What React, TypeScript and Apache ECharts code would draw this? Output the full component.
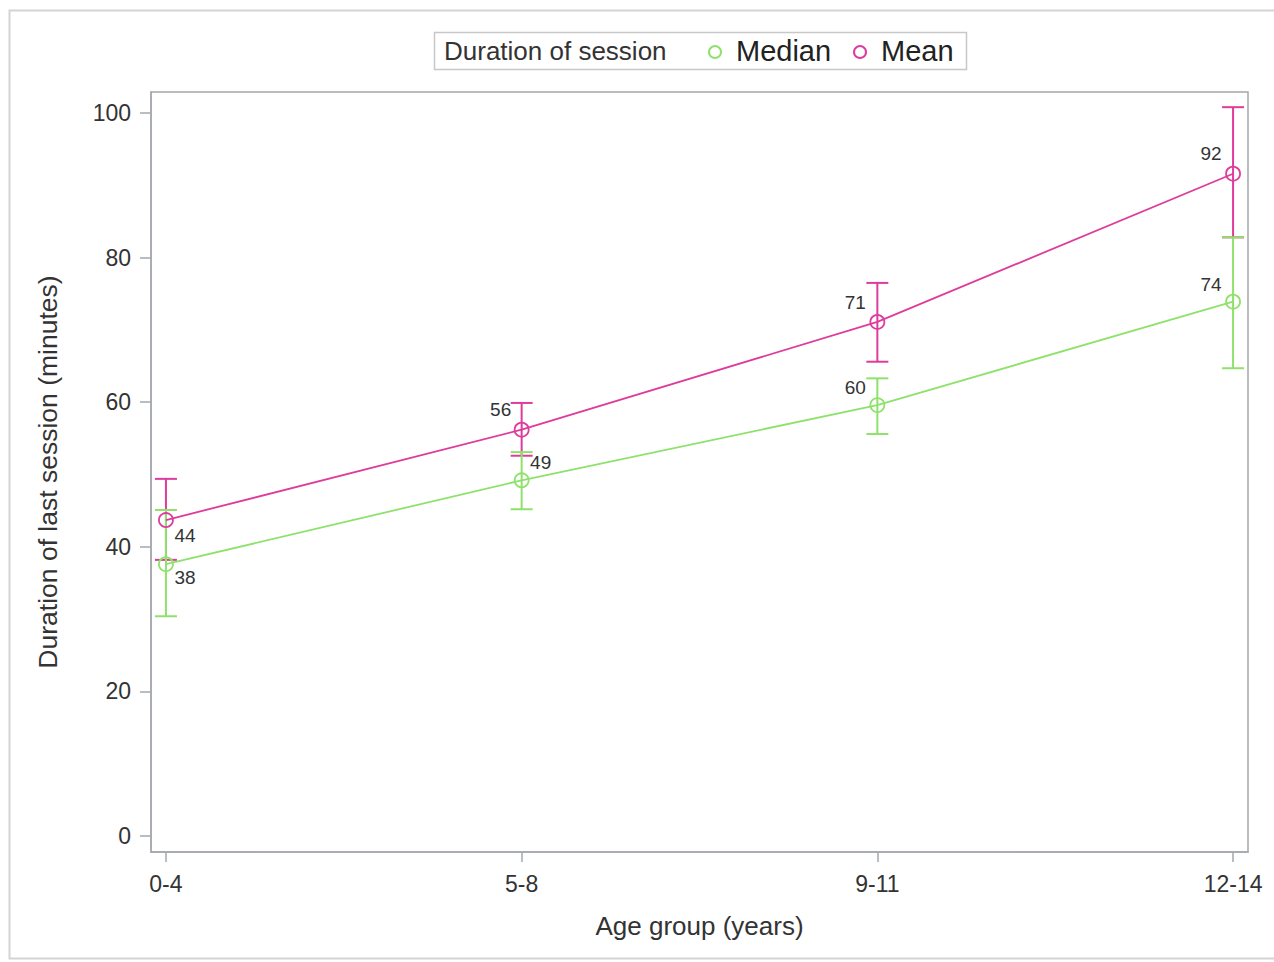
import React, { useEffect, useRef } from "react";
import * as echarts from "echarts";

const categories = ["0-4", "5-8", "9-11", "12-14"];
const meanValues = [43.7, 56.2, 71.1, 91.6];
const meanLower = [38.2, 52.6, 65.6, 82.8];
const meanUpper = [49.4, 59.9, 76.5, 100.8];
const medianValues = [37.6, 49.2, 59.6, 73.9];
const medianLower = [30.4, 45.2, 55.6, 64.7];
const medianUpper = [45.1, 53.1, 63.3, 82.8];
const yTicks = [0, 20, 40, 60, 80, 100];
const meanLabelOffsets = [[19, 15], [-21, -20], [-22, -19], [-22, -20]];
const medianLabelOffsets = [[19, 13], [19, -18], [-22, -18], [-22, -17]];

const MEAN_COLOR = "#DE3C9C";
const MEDIAN_COLOR = "#8EE26C";
const FONT = "'Liberation Sans', Arial, sans-serif";
const TEXT = "#333333";
const AXIS = "#A4A8AC";

function pointSeries(name: string, values: number[], offsets: number[][], color: string) {
  return {
    type: "line",
    name,
    z: 3,
    data: values.map((v, i) => ({
      value: [i, v],
      label: { offset: offsets[i] },
    })),
    symbol: "circle",
    symbolSize: 14,
    lineStyle: { color, width: 1.8 },
    itemStyle: { color: "rgba(0,0,0,0)", borderColor: color, borderWidth: 1.8 },
    label: {
      show: true,
      position: "inside",
      fontFamily: FONT,
      fontSize: 19,
      color: TEXT,
      formatter: (p: any) => String(Math.round(p.value[1])),
    },
    emphasis: { disabled: true },
  };
}

function errorSeries(lower: number[], upper: number[], color: string, z: number) {
  return {
    type: "custom",
    z,
    data: lower.map((lo, i) => [i, lo, upper[i]]),
    renderItem: (params: any, api: any) => {
      const lo = api.coord([api.value(0), api.value(1)]);
      const hi = api.coord([api.value(0), api.value(2)]);
      const hw = 11;
      const style = { stroke: color, lineWidth: 2 };
      return {
        type: "group",
        children: [
          { type: "line", shape: { x1: lo[0], y1: lo[1], x2: hi[0], y2: hi[1] }, style },
          { type: "line", shape: { x1: hi[0] - hw, y1: hi[1], x2: hi[0] + hw, y2: hi[1] }, style },
          { type: "line", shape: { x1: lo[0] - hw, y1: lo[1], x2: lo[0] + hw, y2: lo[1] }, style },
        ],
      };
    },
    silent: true,
  };
}

export default function App() {
  const ref = useRef<HTMLDivElement>(null);
  useEffect(() => {
    document.body.style.margin = "0";
    const chart = echarts.init(ref.current!, null, { renderer: "svg" });
    chart.setOption({
      animation: false,
      backgroundColor: "#ffffff",
      grid: {
        left: 151,
        top: 92,
        right: 26,
        bottom: 110,
        show: true,
        borderColor: AXIS,
        borderWidth: 1.5,
        containLabel: false,
      },
      xAxis: {
        type: "value",
        min: -0.042,
        max: 3.042,
        name: "Age group (years)",
        nameLocation: "middle",
        nameGap: 61,
        nameTextStyle: { fontFamily: FONT, fontSize: 26, color: TEXT },
        axisLine: { show: true, onZero: false, lineStyle: { color: AXIS, width: 1.5 } },
        axisTick: { show: true, length: 10, customValues: [0, 1, 2, 3], lineStyle: { color: AXIS, width: 1.5 } },
        axisLabel: {
          customValues: [0, 1, 2, 3],
          formatter: (v: number) => categories[Math.round(v)] ?? "",
          fontFamily: FONT,
          fontSize: 23,
          color: TEXT,
          margin: 20,
        },
        splitLine: { show: false },
      },
      yAxis: {
        type: "value",
        min: -2.2,
        max: 102.9,
        name: "Duration of last session (minutes)",
        nameLocation: "middle",
        nameGap: 90,
        nameRotate: 90,
        nameTextStyle: { fontFamily: FONT, fontSize: 26.5, color: TEXT },
        axisLine: { show: true, onZero: false, lineStyle: { color: AXIS, width: 1.5 } },
        axisTick: { show: true, length: 11, customValues: yTicks, lineStyle: { color: AXIS, width: 1.5 } },
        axisLabel: {
          customValues: yTicks,
          fontFamily: FONT,
          fontSize: 23,
          color: TEXT,
          margin: 20,
        },
        splitLine: { show: false },
      },
      graphic: [
        {
          type: "rect",
          shape: { x: 9.5, y: 10.5, width: 1300, height: 948 },
          style: { fill: "none", stroke: "#D4D4D4", lineWidth: 2 },
          silent: true,
        },
        {
          type: "rect",
          shape: { x: 434.5, y: 32.5, width: 532, height: 37 },
          style: { fill: "#ffffff", stroke: "#C8C8C8", lineWidth: 1.5 },
          silent: true,
        },
        {
          type: "text",
          x: 444,
          y: 51,
          style: { text: "Duration of session", fontFamily: FONT, fontSize: 26, fill: TEXT, verticalAlign: "middle" },
        },
        {
          type: "circle",
          shape: { cx: 715, cy: 52, r: 6 },
          style: { fill: "none", stroke: MEDIAN_COLOR, lineWidth: 2 },
        },
        {
          type: "text",
          x: 736,
          y: 51,
          style: { text: "Median", fontFamily: FONT, fontSize: 29, fill: "#222", verticalAlign: "middle" },
        },
        {
          type: "circle",
          shape: { cx: 860, cy: 52, r: 6 },
          style: { fill: "none", stroke: MEAN_COLOR, lineWidth: 2 },
        },
        {
          type: "text",
          x: 881,
          y: 51,
          style: { text: "Mean", fontFamily: FONT, fontSize: 29, fill: "#222", verticalAlign: "middle" },
        },
      ],
      series: [
        errorSeries(meanLower, meanUpper, MEAN_COLOR, 1),
        errorSeries(medianLower, medianUpper, MEDIAN_COLOR, 2),
        pointSeries("Median", medianValues, medianLabelOffsets, MEDIAN_COLOR),
        pointSeries("Mean", meanValues, meanLabelOffsets, MEAN_COLOR),
      ],
    });
    return () => chart.dispose();
  }, []);
  return <div ref={ref} style={{ width: 1274, height: 962 }} />;
}
